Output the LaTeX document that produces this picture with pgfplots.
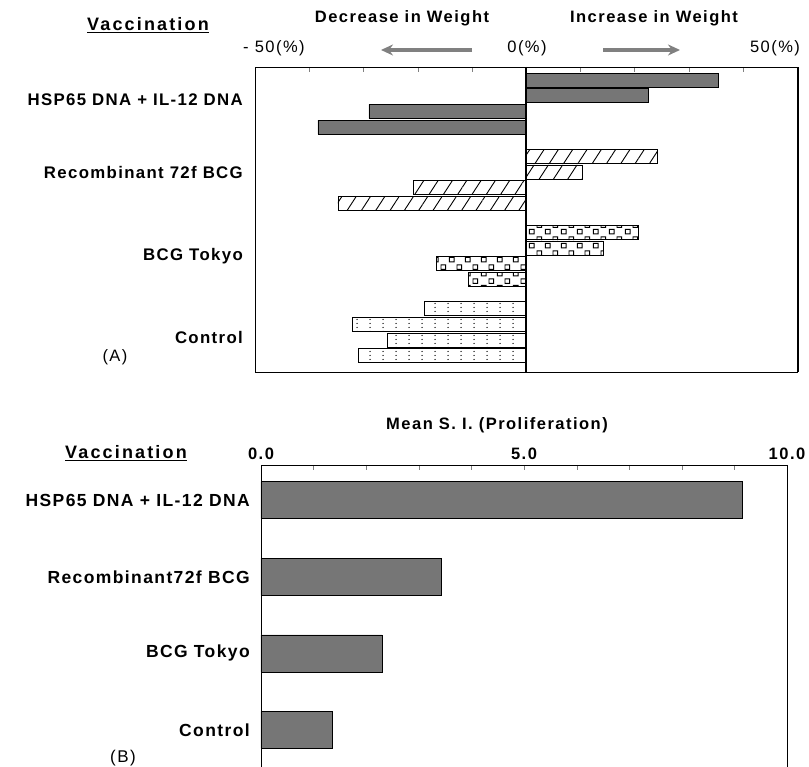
\documentclass[border=0pt]{standalone}
\usepackage{pgfplots}
\pgfplotsset{compat=1.18}
\usepackage{fontspec}
\setmainfont{Liberation Sans}
\newfontfamily\lf[LetterSpace=8]{Liberation Sans}
\newfontfamily\hf[LetterSpace=9]{Liberation Sans}
\newfontfamily\vf[LetterSpace=12]{Liberation Sans}
\usetikzlibrary{patterns.meta,arrows.meta}
\tikzdeclarepattern{
  name=sqcheck,
  type=uncolored,
  bounding box={(0pt,0pt) and (16pt,14pt)},
  tile size={(16pt,14pt)},
  code={
    \draw[line width=1pt] (1.5pt,1.2pt) rectangle (6.5pt,6.0pt);
    \draw[line width=1pt] (9.5pt,8.0pt) rectangle (14.5pt,12.8pt);
  }
}
\tikzdeclarepattern{
  name=vdots,
  type=uncolored,
  bounding box={(0pt,0pt) and (13pt,3.5pt)},
  tile size={(13pt,3.5pt)},
  code={\fill (6.5pt,1.75pt) circle (0.75pt);}
}
\definecolor{bargray}{RGB}{118,118,118}
\begin{document}
\begin{tikzpicture}
\path[use as bounding box] (0pt,0pt) rectangle (809pt,767pt);
% ---------- panel A ----------
\begin{axis}[at={(255pt,395pt)}, anchor=south west, scale only axis,
  width=542pt, height=305pt,
  xmin=-50, xmax=50, ymin=-0.83, ymax=18.6, y dir=reverse,
  xbar, bar width=14pt, bar shift=0pt,
  xtick={-40,-30,-20,-10,10,20,30,40}, xticklabels={},
  xtick pos=right, tick align=inside, major tick length=5pt,
  ytick={1.27,5.9,11.2,16.4},
  yticklabels={HSP65 DNA + IL-12 DNA, Recombinant 72f BCG, BCG Tokyo, Control},
  ytick style={draw=none},
  yticklabel style={font=\lf\bfseries\fontsize{16.8}{19}\selectfont, inner sep=0pt, xshift=-12pt},
  axis line style={line width=0.8pt},
  clip=false]
\addplot[fill=bargray, draw=black, line width=0.6pt] coordinates {(35.5,0) (22.6,1) (-29.0,2) (-38.4,3)};
\addplot[pattern={Lines[angle=57,distance=12pt,line width=0.9pt]}, draw=black, line width=0.6pt] coordinates {(24.3,4.85) (10.3,5.85) (-20.8,6.85) (-34.7,7.85)};
\addplot[pattern=sqcheck, draw=black, line width=0.6pt] coordinates {(20.8,9.7) (14.2,10.7) (-16.5,11.7) (-10.7,12.7)};
\addplot[pattern=vdots, draw=black, line width=0.6pt] coordinates {(-18.8,14.55) (-32.0,15.55) (-25.6,16.55) (-30.9,17.55)};
\draw[line width=1.8pt] (axis cs:0,-0.83) -- (axis cs:0,18.6);
\end{axis}
\draw[line width=0.8pt] (798.5pt,395pt) -- (798.5pt,700pt);
\node[font=\vf\bfseries\fontsize{18}{20}\selectfont] at (148pt,742pt) {\underline{Vaccination}};
\node[font=\hf\bfseries\fontsize{16.5}{18}\selectfont] at (402pt,749pt) {Decrease in Weight};
\node[font=\hf\bfseries\fontsize{16.5}{18}\selectfont] at (654pt,749pt) {Increase in Weight};
\node[font=\hf\fontsize{16.5}{18}\selectfont] at (274pt,719pt) {- 50(\%)};
\node[font=\hf\fontsize{16.5}{18}\selectfont] at (527pt,719pt) {0(\%)};
\node[font=\hf\fontsize{16.5}{18}\selectfont] at (775pt,719pt) {50(\%)};
\draw[-{Stealth[length=12pt,width=11pt]}, line width=4pt, color=black!50] (472pt,717pt) -- (381pt,717pt);
\draw[-{Stealth[length=12pt,width=11pt]}, line width=4pt, color=black!50] (603pt,717pt) -- (680pt,717pt);
\node[font=\hf\fontsize{16.5}{18}\selectfont] at (115pt,410pt) {(A)};
% ---------- panel B ----------
\begin{axis}[at={(261pt,-5pt)}, anchor=south west, scale only axis,
  width=526pt, height=307pt,
  xmin=0, xmax=10, ymin=-0.46, ymax=3.55, y dir=reverse,
  xbar, bar width=37pt, bar shift=0pt,
  xtick={0,1,...,10}, xticklabels={0.0,,,,,5.0,,,,,10.0},
  xtick pos=right, xticklabel pos=right, tick align=inside, major tick length=5pt,
  xticklabel style={font=\hf\bfseries\fontsize{16.5}{18}\selectfont, yshift=2pt},
  ytick={0,1,2,3},
  yticklabels={HSP65 DNA + IL-12 DNA, Recombinant72f BCG, BCG Tokyo, Control},
  ytick style={draw=none},
  yticklabel style={font=\lf\bfseries\fontsize{17.5}{19}\selectfont, inner sep=0pt, xshift=-11pt},
  axis line style={line width=0.8pt},
  clip=false]
\addplot[fill=bargray, draw=black, line width=0.6pt] coordinates {(9.15,0) (3.42,1) (2.3,2) (1.35,3)};
\end{axis}
\node[font=\hf\bfseries\fontsize{16.5}{18}\selectfont] at (497pt,342pt) {Mean S. I. (Proliferation)};
\node[font=\vf\bfseries\fontsize{18}{20}\selectfont] at (126pt,314pt) {\underline{Vaccination}};
\node[font=\hf\fontsize{17}{19}\selectfont] at (123pt,9pt) {(B)};
\end{tikzpicture}
\end{document}
